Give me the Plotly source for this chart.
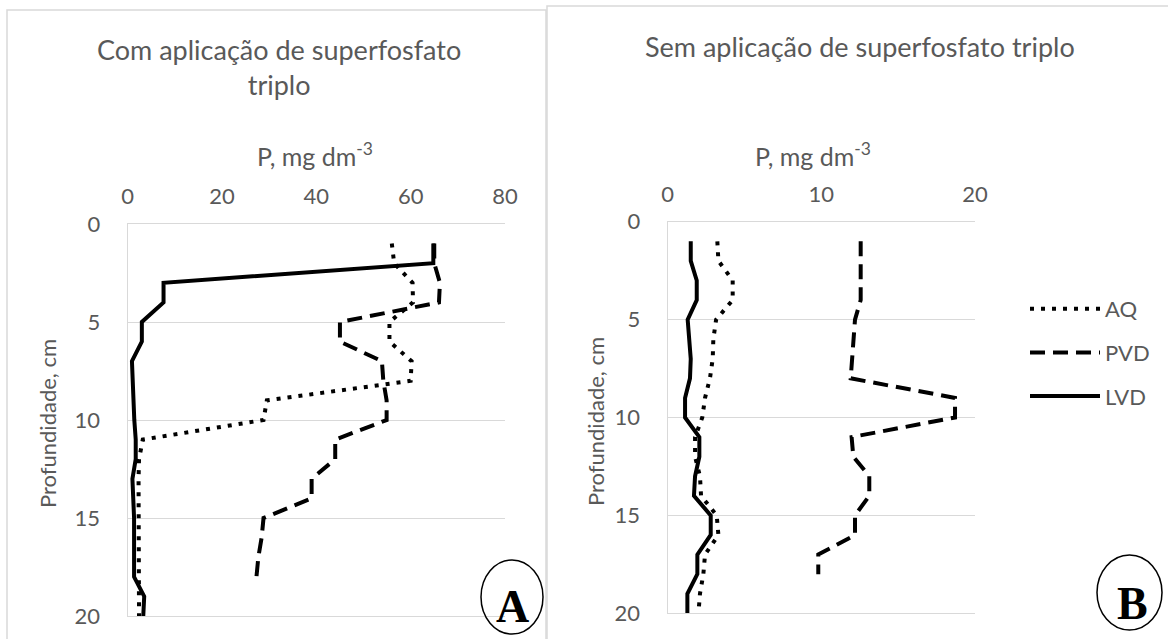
import plotly.graph_objects as go

W, H = 1168, 639

depth = list(range(1, 21))
depth_pvd = list(range(1, 19))

# Panel A: Com aplicação de superfosfato triplo
a_aq = [56.0, 56.5, 60.4, 60.5, 55.5, 55.5, 60.2, 60.0, 29.5, 28.8,
        3.2, 2.4, 2.3, 2.3, 2.3, 2.3, 2.3, 2.3, 2.4, 2.4]
a_pvd = [65.0, 65.0, 66.2, 66.0, 45.0, 45.0, 53.9, 54.2, 54.9, 54.9,
         44.0, 44.0, 39.0, 39.0, 28.8, 28.4, 27.7, 27.3]
a_lvd = [64.8, 64.8, 7.6, 7.6, 3.0, 3.0, 0.9, 1.0, 1.2, 1.4,
         1.7, 1.7, 1.0, 1.2, 1.35, 1.35, 1.35, 1.35, 3.5, 3.3]

# Panel B: Sem aplicação de superfosfato triplo
b_aq = [3.23, 3.30, 4.23, 4.23, 3.15, 2.97, 2.93, 2.75, 2.43, 2.25,
        1.78, 1.78, 2.10, 2.17, 3.19, 3.30, 2.43, 2.32, 2.10, 2.00]
b_pvd = [12.56, 12.56, 12.56, 12.56, 12.19, 12.08, 11.97, 11.91, 18.70, 18.70,
         11.97, 12.08, 13.12, 13.12, 12.19, 12.19, 9.80, 9.80]
b_lvd = [1.50, 1.50, 1.89, 1.89, 1.30, 1.41, 1.50, 1.45, 1.13, 1.13,
         2.06, 2.06, 1.78, 1.71, 2.80, 2.80, 1.93, 1.93, 1.28, 1.28]

series_names = ["AQ", "PVD", "LVD"]
x_ticks_a = [0, 20, 40, 60, 80]
x_ticks_b = [0, 10, 20]
y_ticks = [0, 5, 10, 15, 20]

GRAY = "#595959"
GRID = "#d9d9d9"
FONT = "Lato"


def px(x):
    return x / W


def py(y):
    return 1 - y / H


styles = {
    "AQ": dict(color="black", width=4, dash="4px,7px"),
    "PVD": dict(color="black", width=4, dash="15px,8px"),
    "LVD": dict(color="black", width=4),
}

fig = go.Figure()

panel_data = [
    ("x", "y", {"AQ": (a_aq, depth), "PVD": (a_pvd, depth_pvd), "LVD": (a_lvd, depth)}, True),
    ("x2", "y2", {"AQ": (b_aq, depth), "PVD": (b_pvd, depth_pvd), "LVD": (b_lvd, depth)}, False),
]
for xa, ya, data, first in panel_data:
    for name in series_names:
        xs, ys = data[name]
        fig.add_trace(go.Scatter(
            x=xs, y=ys, mode="lines", name=name, xaxis=xa, yaxis=ya,
            line=styles[name], showlegend=not first, legendgroup=name,
        ))

axis_common = dict(
    showgrid=False, zeroline=False, showline=True, linecolor=GRID, linewidth=1.3,
    tickfont=dict(family=FONT, size=22, color=GRAY), ticks="", automargin=False,
)
yaxis_common = dict(
    autorange=False, range=[20, 0], tickvals=y_ticks, showgrid=True, gridcolor=GRID,
    gridwidth=1.3, zeroline=False, showline=True, linecolor=GRID, linewidth=1.3,
    tickfont=dict(family=FONT, size=22, color=GRAY), ticks="", ticklabelstandoff=22,
    automargin=False,
)

fig.update_layout(
    width=W, height=H, margin=dict(l=0, r=0, t=0, b=0, pad=0, autoexpand=False),
    paper_bgcolor="white", plot_bgcolor="white",
    xaxis=dict(axis_common, domain=[px(127.7), px(505)], range=[0, 80], tickvals=x_ticks_a,
               side="top", anchor="y", mirror=True, ticklabelstandoff=10),
    yaxis=dict(yaxis_common, domain=[py(616), py(224)], anchor="x"),
    xaxis2=dict(axis_common, domain=[px(667.7), px(975)], range=[0, 20], tickvals=x_ticks_b,
                side="top", anchor="y2", mirror=True, ticklabelstandoff=10),
    yaxis2=dict(yaxis_common, domain=[py(613.3), py(221.7)], anchor="x2"),
    legend=dict(x=px(1025), y=py(288), xanchor="left", yanchor="top",
                font=dict(family=FONT, size=22, color=GRAY), itemwidth=70,
                tracegroupgap=12, bgcolor="rgba(0,0,0,0)"),
    showlegend=True,
)

ann = []


def text(x, y, t, size, **kw):
    ann.append(dict(x=px(x), y=py(y), xref="paper", yref="paper", text=t, showarrow=False,
                    xanchor="center", yanchor="middle",
                    font=dict(family=kw.pop("family", FONT), size=size, color=kw.pop("color", GRAY)), **kw))


text(279, 67, "Com aplicação de superfosfato<br>triplo", 27)
text(860, 46, "Sem aplicação de superfosfato triplo", 27)
text(315, 155, "P, mg dm<sup>-3</sup>", 25)
text(813, 155, "P, mg dm<sup>-3</sup>", 25)
text(47, 424, "Profundidade, cm", 22, textangle=-90)
text(595, 422, "Profundidade, cm", 22, textangle=-90)
text(512, 606, "<b>A</b>", 46, family="Liberation Serif", color="black")
text(1132, 603, "<b>B</b>", 46, family="Liberation Serif", color="black")
fig.update_layout(annotations=ann)

shapes = [
    dict(type="rect", xref="paper", yref="paper", x0=px(7), x1=px(546), y0=py(660), y1=py(10),
         line=dict(color=GRID, width=1.5)),
    dict(type="rect", xref="paper", yref="paper", x0=px(547), x1=px(1180), y0=py(660), y1=py(6),
         line=dict(color=GRID, width=1.5)),
    dict(type="circle", xref="paper", yref="paper", x0=px(481), x1=px(543), y0=py(634), y1=py(560),
         line=dict(color="black", width=1.5)),
    dict(type="circle", xref="paper", yref="paper", x0=px(1097), x1=px(1162), y0=py(630), y1=py(555),
         line=dict(color="black", width=1.5)),
]
fig.update_layout(shapes=shapes)

fig.write_html(
    "out.html",
    config={"displayModeBar": False},
    post_script="document.body.style.margin='0';document.body.style.overflow='hidden';",
)
